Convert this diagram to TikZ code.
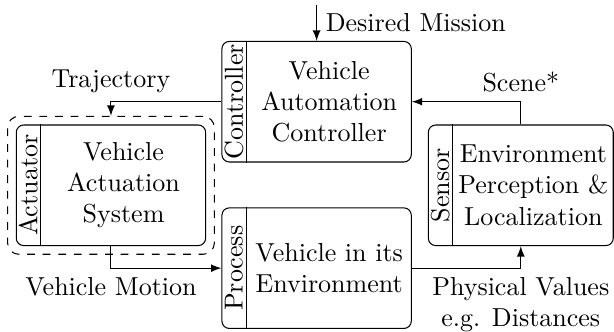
\documentclass[tikz,border=0pt]{standalone}
\usetikzlibrary{fit}

\begin{document}
\begin{tikzpicture}[block/.style={draw, rounded corners=0.1cm, minimum width=2.56cm, minimum height=1.63cm},
	tag/.style={rotate=90, inner sep=0pt},
	body/.style={align=center},
	flow/.style={-latex}]
\useasboundingbox (0,0) rectangle (8.30,4.475);

% blocks of the control loop
\node[block] (ctrl) at (4.28,3.10) {};
\node[block] (act) at (1.50,1.97) {};
\node[block] (proc) at (4.28,0.85) {};
\node[block, minimum width=2.50cm] (sens) at (7.04,1.97) {};

% side strip with the role of each block
\draw ([xshift=0.34cm]ctrl.north west) -- ([xshift=0.34cm]ctrl.south west);
\draw ([xshift=0.34cm]act.north west) -- ([xshift=0.34cm]act.south west);
\draw ([xshift=0.34cm]proc.north west) -- ([xshift=0.34cm]proc.south west);
\draw ([xshift=0.34cm]sens.north west) -- ([xshift=0.34cm]sens.south west);
\node[tag] (ctrltag) at ([xshift=0.17cm]ctrl.west) {Controller};
\node[tag] (acttag) at ([xshift=0.17cm]act.west) {Actuator};
\node[tag] (proctag) at ([xshift=0.17cm]proc.west) {Process};
\node[tag] (senstag) at ([xshift=0.17cm]sens.west) {Sensor};

\node[body] (ctrltxt) at ([xshift=0.17cm]ctrl.center) {Vehicle\\Automation\\Controller};
\node[body] (acttxt) at ([xshift=0.17cm]act.center) {Vehicle\\Actuation\\System};
\node[body] (proctxt) at ([xshift=0.17cm]proc.center) {Vehicle in its\\Environment};
\node[body] (senstxt) at ([xshift=0.17cm]sens.center) {Environment\\Perception \&\\Localization};

\node[draw, dashed, rounded corners=0.15cm, fit=(act), inner sep=0.11cm] (actframe) {};

% signals
\coordinate (goal) at (4.28,4.41);
\draw[flow] (goal) -- node[right] (goaltxt) {Desired Mission} (ctrl.north);
\draw[flow] (ctrl.west) -| node[pos=0.5, above] (trajtxt) {Trajectory} (actframe.north);
\draw[flow] (act.south) |- node[pos=0.5, below] (motiontxt) {Vehicle Motion} (proc.west);
\draw[flow] (proc.east) -| node[pos=0.5, below, align=center] (phystxt) {Physical Values\\e.g. Distances} (sens.south);
\draw[flow] (sens.north) |- node[pos=0.5, above] (scenetxt) {Scene*} (ctrl.east);

\end{tikzpicture}
\end{document}
